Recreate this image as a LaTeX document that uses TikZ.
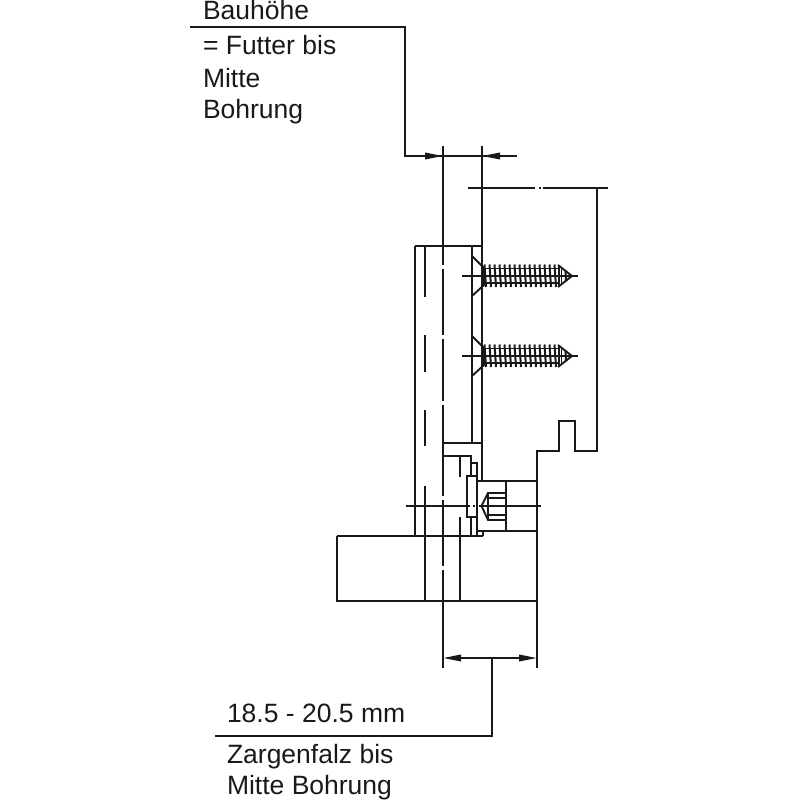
\documentclass[tikz,border=0pt]{standalone}
\usepackage{fontspec}
\setmainfont{Liberation Sans}
\usetikzlibrary{arrows.meta}
\tikzset{
  lbl/.style={anchor=base west,inner sep=0pt,outer sep=0pt,font=\fontsize{26.5}{30}\selectfont,text=black!90},
  ln/.style={line width=1.9pt,draw=black!90},
  thin line/.style={line width=1.7pt,draw=black!90},
  thr/.style={line width=2pt,draw=black!90},
  dimtip/.style={-{Triangle[length=18pt,width=6.5pt]}},
  dimpair/.style={{Triangle[length=18pt,width=6.5pt]}-{Triangle[length=18pt,width=6.5pt]}},
}
\newcommand{\screw}[1]{%
  \begin{scope}[yshift=-#1pt]
    % countersunk head
    \draw[ln] (472,-20) -- (484,-8) -- (484,9) -- (472,20);
    % centre line
    \draw[thin line] (462,0) -- (578,0);
    % shank
    \draw[ln] (484,-7.5) -- (558,-7.5);
    \draw[ln] (484,7) -- (558,7);
    % thread
    \foreach \tx in {484,489,...,554}{
      \draw[thr] (\tx+0.5,-11.5) -- (\tx+2,11);
    }
    \draw[thr] (558.5,-10) -- (558.5,10);
    \draw[ln] (561.5,-8.5) -- (561.5,8.5);
    % tip
    \draw[ln] (558,-11) -- (572,0) -- (558,11);
    \draw[thr] (565.5,-5.5) -- (566,5);
  \end{scope}}
\begin{document}
\begin{tikzpicture}[x=1pt,y=-1pt]
\useasboundingbox (0,0) rectangle (800,800);
% texts
\node[lbl] (t1) at (203,19.5) {Bauhöhe};
\node[lbl] (t2) at (203,55) {= Futter bis};
\node[lbl] (t3) at (203,87.5) {Mitte};
\node[lbl] (t4) at (203,118.5) {Bohrung};
\node[lbl] (t5) at (227,722) {18.5 - 20.5 mm};
\node[lbl] (t6) at (227,763) {Zargenfalz bis};
\node[lbl] (t7) at (227,794) {Mitte Bohrung};
% top leader and dimension
\draw[ln] (190,27) -- (405,27) -- (405,156) -- (517,156);
\draw[ln,dimtip] (425,156) -- (443,156);
\draw[ln,dimtip] (500,156) -- (482,156);
% right dimension frame
\draw[ln] (468,188) -- (535,188);
\draw[ln] (543,188) -- (608,188);
\fill[black!90] (538.5,187) rectangle (540.5,189);
% centre line x=443
\foreach \a/\b in {146/265,269/335,339/401,405/496,500/566,570/668}{
  \draw[ln] (443,\a) -- (443,\b);
}
% long verticals
\draw[ln] (482,146) -- (482,481);
\draw[ln] (415,246) -- (415,536);
\draw[ln] (415,246) -- (482,246);
\draw[ln] (472,246) -- (472,443);
\foreach \a/\b in {246/297,335/372,410/446,486/601}{
  \draw[ln] (425,\a) -- (425,\b);
}
% mechanism
\draw[ln] (443,443) -- (482,443);
\draw[ln] (443,456) -- (471,456) -- (471,476);
\draw[ln] (471,463) -- (477,463) -- (477,536);
\draw[ln] (460,457) -- (460,477);
\draw[ln] (460,517) -- (460,601);
\draw[ln] (467,476) rectangle (477,517);
\draw[ln] (471,517) -- (471,536);
\draw[ln] (477,481) -- (537,481);
\draw[ln] (477,531) -- (537,531);
\draw[ln] (483,531) -- (483,536);
\draw[ln] (506,481) -- (506,531);
% socket
\draw[ln] (481.5,506) -- (488,493) -- (506,493);
\draw[ln] (481.5,506) -- (488,520) -- (506,520);
\draw[ln] (488,493) -- (488,520);
\draw[ln] (488,498) -- (506,498);
\draw[ln] (488,515) -- (506,515);
\draw[ln] (406,506) -- (470,506);
\fill[black!90] (472.5,505) rectangle (474.5,507);
\draw[ln] (479,506) -- (541,506);
% bottom block
\draw[ln] (337,536) -- (483,536);
\draw[ln] (337,536) -- (337,601) -- (537,601);
% stepped outline
\draw[ln] (537,668) -- (537,451) -- (559,451) -- (559,421) -- (575,421) -- (575,451) -- (597,451) -- (597,188);
% lower dimension
\draw[ln,dimpair] (443,658) -- (537,658);
\draw[ln] (492,658) -- (492,736) -- (215,736);
% screws
\screw{276}
\screw{356}
\end{tikzpicture}
\end{document}
